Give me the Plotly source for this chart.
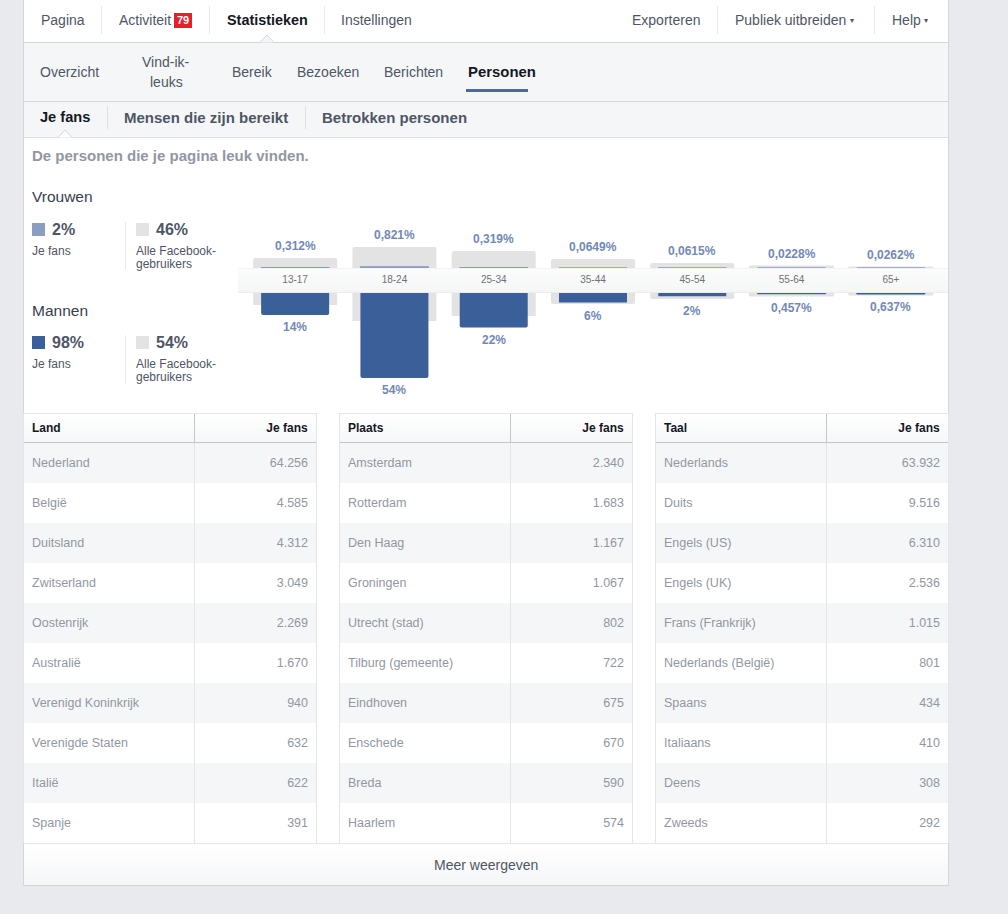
import plotly.graph_objects as go

W, H = 1008, 914

# chart values
age_groups = ['13-17', '18-24', '25-34', '35-44', '45-54', '55-64', '65+']
women_fans = [0.312, 0.821, 0.319, 0.0649, 0.0615, 0.0228, 0.0262]
men_fans = [14, 54, 22, 6, 2, 0.457, 0.637]
women_all = [6.4, 13.4, 10.8, 5.7, 3.2, 1.3, 0.6]
men_all = [7.6, 17.8, 14.6, 7.0, 3.8, 1.9, 1.3]
women_labels = ['0,312%', '0,821%', '0,319%', '0,0649%', '0,0615%', '0,0228%', '0,0262%']
men_labels = ['14%', '54%', '22%', '6%', '2%', '0,457%', '0,637%']

countries = ['Nederland', 'België', 'Duitsland', 'Zwitserland', 'Oostenrijk', 'Australië',
             'Verenigd Koninkrijk', 'Verenigde Staten', 'Italië', 'Spanje']
country_fans = ['64.256', '4.585', '4.312', '3.049', '2.269', '1.670', '940', '632', '622', '391']
cities = ['Amsterdam', 'Rotterdam', 'Den Haag', 'Groningen', 'Utrecht (stad)', 'Tilburg (gemeente)',
          'Eindhoven', 'Enschede', 'Breda', 'Haarlem']
city_fans = ['2.340', '1.683', '1.167', '1.067', '802', '722', '675', '670', '590', '574']
languages = ['Nederlands', 'Duits', 'Engels (US)', 'Engels (UK)', 'Frans (Frankrijk)', 'Nederlands (België)',
             'Spaans', 'Italiaans', 'Deens', 'Zweeds']
language_fans = ['63.932', '9.516', '6.310', '2.536', '1.015', '801', '434', '410', '308', '292']

FONT = 'Liberation Sans'
DARK = '#141823'
GREY = '#4e5665'
MUTED = '#9197a3'
LINE = '#d3d6db'
SOFT = '#f5f6f8'
BLUE = '#3b5f98'
LIGHTBLUE = '#8b9dc3'
BARGREY = '#e3e3e3'
LABEL = '#7288b8'

shapes = []
annotations = []


def px(x):
    return x / W


def py(y):
    return 1 - y / H


def rect(x0, y0, x1, y1, color):
    shapes.append(dict(type='rect', xref='paper', yref='paper', x0=px(x0), x1=px(x1), y0=py(y0), y1=py(y1),
                       fillcolor=color, line_width=0, layer='below'))


def gradient(x0, y0, x1, y1, top, bottom):
    # plotly shapes have no gradient, so stack 1px strips
    n = y1 - y0
    for i in range(n):
        t = i / max(n - 1, 1)
        c = [round(a + (b - a) * t) for a, b in zip(top, bottom)]
        rect(x0, y0 + i, x1, y0 + i + 1, 'rgb(%d,%d,%d)' % tuple(c))


def notch(x0, x1, base, apex, color):
    mid = (x0 + x1) / 2
    path = 'M %f %f L %f %f L %f %f' % (px(x0), py(base), px(mid), py(apex), px(x1), py(base))
    shapes.append(dict(type='path', xref='paper', yref='paper', path=path + ' Z', fillcolor=color,
                       line_width=0, layer='below'))
    shapes.append(dict(type='path', xref='paper', yref='paper', path=path, line=dict(color=LINE, width=1),
                       layer='below'))


def text(x, y, s, size=14, color=GREY, bold=False, anchor='left'):
    # annotations keep a 1px box around the text
    shift = -1 if anchor == 'left' else 0
    annotations.append(dict(xref='paper', yref='paper', x=px(x + shift), y=py(y), text=s, showarrow=False,
                            xanchor=anchor, yanchor='middle', borderpad=0,
                            font=dict(family=FONT, size=size, color=color, weight=700 if bold else 400)))


# page panels
rect(23, 0, 949, 886, LINE)
rect(24, 0, 948, 885, 'white')
rect(24, 43, 948, 101, SOFT)
rect(24, 42, 948, 43, LINE)
rect(24, 101, 948, 102, LINE)
rect(24, 102, 948, 137, SOFT)
rect(24, 137, 948, 138, '#dddfe2')
notch(260, 274, 42.5, 35, SOFT)
notch(58, 72, 137.5, 130, 'white')

# top nav
for x in [101, 209, 324, 717, 874]:
    rect(x, 6, x + 1, 34, '#e9eaed')
for x, s in [(41, 'Pagina'), (119, 'Activiteit'), (341, 'Instellingen'), (632, 'Exporteren'),
             (735, 'Publiek uitbreiden'), (892, 'Help')]:
    text(x, 20, s)
text(227, 20, 'Statistieken', size=14.4, color=DARK, bold=True)
rect(174, 13, 192, 28, '#e4202c')
text(183, 20.5, '79', size=11, color='white', bold=True, anchor='center')
text(850, 20.5, '▾', size=8)
text(924, 20.5, '▾', size=8)

# second nav
for x, s in [(40, 'Overzicht'), (232, 'Bereik'), (297, 'Bezoeken'), (384, 'Berichten')]:
    text(x, 72, s)
text(166, 62, 'Vind-ik-', anchor='center')
text(166, 82, 'leuks', anchor='center')
text(468, 72, 'Personen', size=14.9, color=DARK, bold=True)
rect(466, 89, 528, 92, '#4e69a2')

# third nav
for x in [107, 305]:
    rect(x, 106, x + 1, 129, '#dddfe2')
text(40, 117, 'Je fans', size=14.6, color=DARK, bold=True)
text(124, 117, 'Mensen die zijn bereikt', size=15, bold=True)
text(322, 117, 'Betrokken personen', size=15, bold=True)
text(32, 156, 'De personen die je pagina leuk vinden.', size=15, color=MUTED, bold=True)

# gender legend
for y, name, color, fans, everyone in [(197, 'Vrouwen', LIGHTBLUE, '2%', '46%'), (310, 'Mannen', BLUE, '98%', '54%')]:
    text(32, y, name, size=15.5, color='#37404e')
    rect(32, y + 26, 45, y + 39, color)
    rect(136, y + 26, 149, y + 39, BARGREY)
    text(52, y + 32.5, fans, size=16, bold=True)
    text(156, y + 32.5, everyone, size=16, bold=True)
    text(32, y + 54, 'Je fans', size=12)
    text(136, y + 54, 'Alle Facebook-', size=12)
    text(136, y + 67, 'gebruikers', size=12)
    rect(125, y + 25, 126, y + 73, '#e9eaed')

# age band between the two bar charts
gradient(238, 268, 948, 293, (252, 252, 252), (245, 246, 246))
rect(238, 268, 948, 269, '#f3f3f3')
rect(238, 292, 948, 293, '#ececec')

# tables: fills and dividers are shapes, the tables themselves are see-through
tables = [(24, 194, 316, 'Land', countries, country_fans),
          (340, 510, 632, 'Plaats', cities, city_fans),
          (656, 826, 948, 'Taal', languages, language_fans)]
traces = []
for x0, xm, x1, title, names, values in tables:
    rect(x0 - 1, 413, x1 + 1, 843, '#e4e5e8')
    rect(x0, 414, x1, 843, 'white')
    gradient(x0, 414, x1, 442, (255, 255, 255), (246, 247, 248))
    rect(x0, 442, x1, 443, '#c4c6ca')
    for i in range(0, 10, 2):
        rect(x0, 443 + 40 * i, x1, 483 + 40 * i, SOFT)
    rect(xm, 414, xm + 1, 442, '#c4c6ca')
    rect(xm, 443, xm + 1, 843, '#e4e5e8')
    traces.append(go.Table(
        domain=dict(x=[px(x0), px(x1 + 1)], y=[py(856), py(413)]),
        columnwidth=[xm - x0, x1 + 1 - xm],
        header=dict(values=['<b>%s</b>' % title, '<b>Je fans</b>'], align=['left', 'right'], height=37, line_width=0,
                    fill_color='rgba(0,0,0,0)', font=dict(family=FONT, size=12, color=DARK)),
        cells=dict(values=[names, values], align=['left', 'right'], height=40, line_width=0,
                   fill_color='rgba(0,0,0,0)', font=dict(family=FONT, size=12.5, color=MUTED))))

# footer
rect(24, 843, 948, 844, '#e4e5e8')
gradient(24, 844, 948, 885, (255, 255, 255), (245, 246, 247))
text(486, 865, 'Meer weergeven', anchor='center')

fig = go.Figure(traces)


def add_bars(values, axis, color, width):
    # bars of a few px cannot take the rounded corners, they get a 1px outline to stay visible
    fig.add_trace(go.Bar(x=age_groups, y=[v if v >= 2 else None for v in values], width=width, marker_color=color,
                         marker_line_width=0, marker_cornerradius=2, xaxis='x' + axis, yaxis='y' + axis,
                         hoverinfo='skip'))
    fig.add_trace(go.Bar(x=age_groups, y=[v if v < 2 else None for v in values], width=width, marker_color=color,
                         marker_line=dict(color=color, width=1), xaxis='x' + axis, yaxis='y' + axis,
                         hoverinfo='skip'))


# bars: women grow up from the band, men grow down from it
add_bars(women_all, '2', BARGREY, 0.846)
add_bars(women_fans, '2', LIGHTBLUE, 0.685)
add_bars(men_all, '3', BARGREY, 0.846)
add_bars(men_fans, '3', BLUE, 0.685)

for i, age in enumerate(age_groups):
    annotations.append(dict(xref='x2', yref='y2', x=age, y=max(women_all[i], women_fans[i]), yshift=12,
                            text=women_labels[i], showarrow=False, yanchor='middle',
                            font=dict(family=FONT, size=12, color=LABEL, weight=700)))
    annotations.append(dict(xref='x3', yref='y3', x=age, y=max(men_all[i], men_fans[i]), yshift=-12,
                            text=men_labels[i], showarrow=False, yanchor='middle',
                            font=dict(family=FONT, size=12, color=LABEL, weight=700)))

x_domain = [px(245.5), px(940.5)]
fig.update_layout(
    width=W, height=H, margin=dict(l=0, r=0, t=0, b=0), autosize=False,
    paper_bgcolor='#e9eaed', plot_bgcolor='rgba(0,0,0,0)', showlegend=False,
    barmode='overlay', font=dict(family=FONT),
    shapes=shapes, annotations=annotations,
    xaxis2=dict(domain=x_domain, anchor='y2', type='category', categoryorder='array', categoryarray=age_groups,
                visible=False),
    yaxis2=dict(domain=[py(268), py(225)], anchor='x2', range=[0, 27.3], visible=False),
    xaxis3=dict(domain=x_domain, anchor='y3', type='category', categoryorder='array', categoryarray=age_groups,
                side='top', showline=False, showgrid=False, zeroline=False, ticks='', ticklabelstandoff=7,
                tickfont=dict(family=FONT, size=10, color='#6e7277')),
    yaxis3=dict(domain=[py(403), py(293)], anchor='x3', range=[69.9, 0], visible=False),
)

fig.write_html("out.html", config=dict(displayModeBar=False),
               post_script="document.body.style.margin='0';document.body.style.overflow='hidden';")
